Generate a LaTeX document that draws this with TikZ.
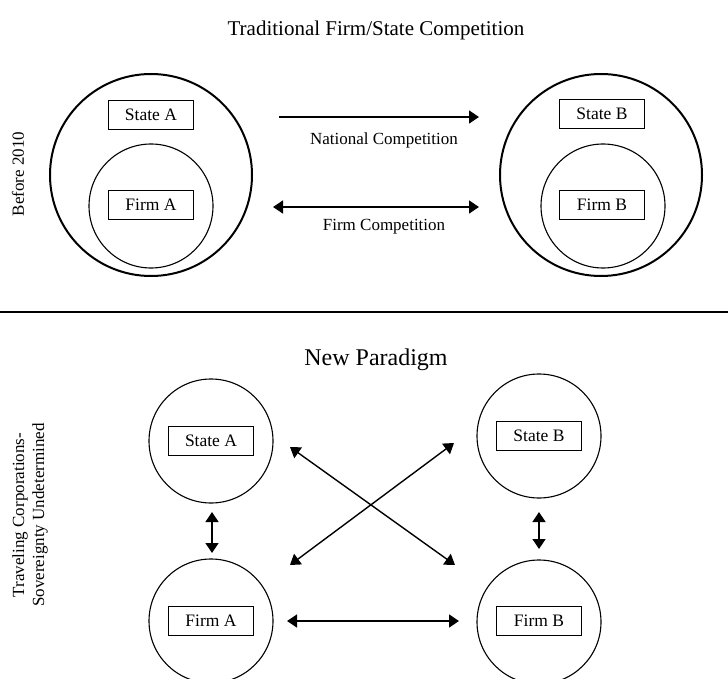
\documentclass[tikz,border=0pt]{standalone}
\usepackage{fontspec}
\setmainfont{Liberation Serif}
\usetikzlibrary{arrows.meta}
\begin{document}
\begin{tikzpicture}[x=1pt,y=-1pt,
  bigcirc/.style={circle,draw,line width=2pt,minimum size=202pt,inner sep=0pt},
  smallcirc/.style={circle,draw,line width=1.1pt,minimum size=124pt,inner sep=0pt},
  lbl/.style={draw,line width=0.9pt,minimum width=85pt,minimum height=29pt,inner sep=0pt,font=\fontsize{17.5}{20}\selectfont},
  txt/.style={font=\fontsize{17}{20}\selectfont,inner sep=0pt},
  ttl/.style={font=\fontsize{21}{25}\selectfont,inner sep=0pt},
  conn/.style={line width=1.4pt,{Triangle[length=10pt,width=13pt]}-{Triangle[length=10pt,width=13pt]}},
  oneway/.style={line width=1.4pt,-{Triangle[length=10pt,width=13pt]}}
]
\useasboundingbox (0,0) rectangle (728,679);
\clip (0,0) rectangle (728,679);

% ---------- top section ----------
\node[ttl] (t1) at (376,30) {Traditional Firm/State Competition};
\node[txt,rotate=90] (before) at (18,174) {Before 2010};

\node[bigcirc] (ca) at (151,175) {};
\node[lbl] (sa1) at (151,115) {State A};
\node[smallcirc] (ia) at (151,206) {};
\node[lbl] (fa1) at (151,205) {Firm A};

\node[bigcirc] (cb) at (601,175) {};
\node[lbl] (sb1) at (602,114) {State B};
\node[smallcirc] (ib) at (603,206) {};
\node[lbl] (fb1) at (602,205) {Firm B};

\coordinate (n1) at (279,117);
\coordinate (n2) at (479,117);
\draw[oneway] (n1) -- (n2);
\node[txt] (nc) at (384,140) {National Competition};

\coordinate (f1) at (273,207);
\coordinate (f2) at (479,207);
\draw[conn] (f1) -- (f2);
\node[txt] (fc) at (384,227) {Firm Competition};

% ---------- separator ----------
\coordinate (s1) at (0,312);
\coordinate (s2) at (728,312);
\draw[line width=2.2pt] (s1) -- (s2);

% ---------- bottom section ----------
\node[font=\fontsize{24}{28}\selectfont,inner sep=0pt] (t2) at (376,360) {New Paradigm};
\node[txt,rotate=90,align=center] (trav) at (30,515) {Traveling Corporations-\\Sovereignty Undetermined};

\node[smallcirc] (csa) at (211,441) {};
\node[lbl] (sa2) at (211,441) {State A};
\node[smallcirc] (cfa) at (211,621) {};
\node[lbl] (fa2) at (211,621) {Firm A};
\node[smallcirc] (csb) at (539,436) {};
\node[lbl] (sb2) at (539,436) {State B};
\node[smallcirc] (cfb) at (539,622) {};
\node[lbl] (fb2) at (539,621) {Firm B};

\coordinate (va1) at (212,512);
\coordinate (va2) at (212,553);
\coordinate (vb1) at (539,512);
\coordinate (vb2) at (539,549);
\draw[conn] (va1) -- (va2);
\draw[conn] (vb1) -- (vb2);

\coordinate (d1) at (290,447);
\coordinate (d2) at (455,565);
\coordinate (d3) at (290,565);
\coordinate (d4) at (454,443);
\draw[conn] (d1) -- (d2);
\draw[conn] (d3) -- (d4);

\coordinate (h1) at (287,621);
\coordinate (h2) at (459,621);
\draw[conn] (h1) -- (h2);
\end{tikzpicture}
\end{document}
